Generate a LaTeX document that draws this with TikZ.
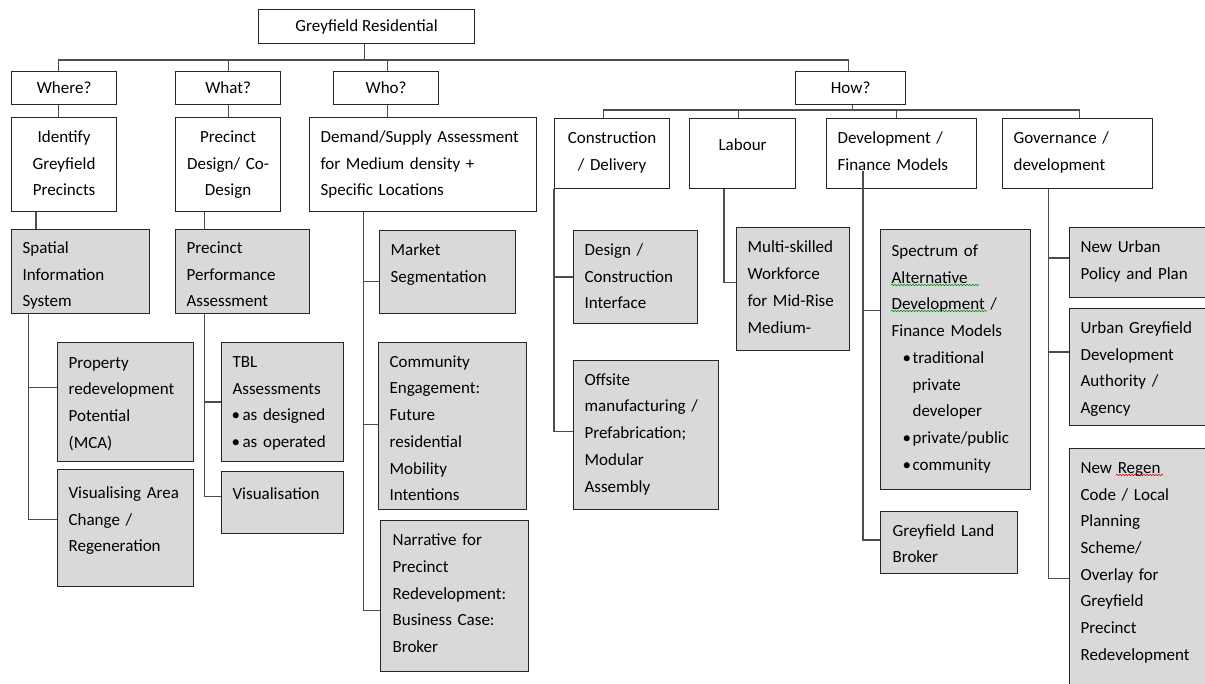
\documentclass[tikz,border=0pt]{standalone}
\usepackage{fontspec}
\setmainfont{Carlito}
\usetikzlibrary{decorations.pathmorphing}
\definecolor{boxgrey}{HTML}{D9D9D9}
\definecolor{boxline}{HTML}{262626}
\definecolor{linegrey}{HTML}{4D4D4D}
\begin{document}
\begin{tikzpicture}[x=1pt,y=-1pt,font=\fontsize{17pt}{26.7pt}\selectfont]
        \tikzset{
          qbox/.style={draw=boxline,line width=1.2pt,fill=white,anchor=north west,inner sep=0pt},
          hbox/.style={qbox,align=center,inner xsep=5pt},
          wbox/.style={qbox,align=left,inner xsep=11pt},
          gbox/.style={wbox,fill=boxgrey},
          link/.style={draw=linegrey,line width=1.2pt},
          squiggle/.style={draw=#1,line width=0.6pt,decorate,decoration={snake,amplitude=0.7pt,segment length=3pt}}
        }
        \useasboundingbox (0,0) rectangle (1205,684);
        \clip (0,0) rectangle (1205,684);
        %TOP
        \node[qbox,minimum width=216pt,minimum height=34pt] (top) at (258,9) {Greyfield Residential};
        \foreach \n/\x/\w/\lbl in {where/11/105/Where?,what/175/105/What?,who/333/105/Who?,how/795/110/How?}{
            \node[qbox,minimum width=\w pt,minimum height=33pt] (\n) at (\x,71) {\lbl};
        }
        %SECOND ROW
        \node[hbox,text width=95pt,text height=25pt,text depth=69pt] (ident) at (11,117) {Identify\\Greyfield\\Precincts};
        \node[hbox,text width=95pt,text height=25pt,text depth=69pt] (pdesign) at (175,117) {Precinct\\Design/ Co-\\Design};
        \node[wbox,text width=205pt,text height=25pt,text depth=69pt] (demand) at (309,117) {Demand/Supply Assessment\\for Medium density +\\Specific Locations};
        \node[hbox,text width=105pt,text height=25pt,text depth=45pt] (cons) at (554,118) {Construction\\/ Delivery};
        \node[hbox,text width=96pt,text height=32pt,text depth=38pt] (labour) at (689,118) {Labour};
        \node[wbox,text width=128pt,text height=25pt,text depth=45pt] (devfin) at (826,118) {Development /\\Finance Models};
        \node[wbox,text width=128pt,text height=25pt,text depth=45pt] (gov) at (1002,118) {Governance /\\development};
        %GREY BOXES
        \node[gbox,text width=116pt,text height=24pt,text depth=60pt] (spatial) at (11,229) {Spatial\\Information\\System};
        \node[gbox,text width=112pt,text height=24pt,text depth=60pt] (ppa) at (175,229) {Precinct\\Performance\\Assessment};
        \node[gbox,text width=114pt,text height=25.5pt,text depth=93.5pt] (prop) at (57,342) {Property\\redevelopment\\Potential\\(MCA)};
        \node[gbox,text width=114pt,text height=28.7pt,text depth=88.3pt] (visarea) at (57,469) {Visualising Area\\Change /\\Regeneration};
        \node[gbox,text width=100pt,text height=25pt,text depth=94pt] (tbl) at (221,342) {TBL\\Assessments\\\makebox[10pt][l]{\hspace{-1pt}\textbullet}as designed\\\makebox[10pt][l]{\hspace{-1pt}\textbullet}as operated};
        \node[gbox,text width=100pt,text height=28pt,text depth=34pt] (vis) at (221,471) {Visualisation};
        \node[gbox,text width=114pt,text height=25.3pt,text depth=57.7pt] (market) at (379,230) {Market\\Segmentation};
        \node[gbox,text width=126pt,text height=24.7pt,text depth=142.3pt] (commun) at (378,342) {Community\\Engagement:\\Future\\residential\\Mobility\\Intentions};
        \node[gbox,inner xsep=12pt,text width=124pt,text height=25pt,text depth=126pt] (narr) at (380,520) {Narrative for\\Precinct\\Redevelopment:\\Business Case:\\Broker};
        \node[gbox,text width=102pt,text height=25pt,text depth=68pt] (dci) at (573,230) {Design /\\Construction\\Interface};
        \node[gbox,text width=123pt,text height=24.7pt,text depth=124.3pt] (offsite) at (573,360) {Offsite\\manufacturing /\\Prefabrication;\\Modular\\Assembly};
        \node[gbox,text width=91pt,text height=25.4pt,text depth=97.6pt] (multi) at (736,227) {Multi-skilled\\Workforce\\for Mid-Rise\\Medium-};
        \node[gbox,text width=128pt,text height=27pt,text depth=233pt] (spectrum) at (880,229) {Spectrum of\\Alternative\\Development /\\Finance Models\\\hspace*{11pt}\makebox[10pt][l]{\textbullet}traditional\\\hspace*{21pt}private\\\hspace*{21pt}developer\\\hspace*{11pt}\makebox[10pt][l]{\textbullet}private/public\\\hspace*{11pt}\makebox[10pt][l]{\textbullet}community};
        \node[gbox,inner xsep=12pt,text width=113pt,text height=24.6pt,text depth=37.4pt] (gland) at (880,511) {Greyfield Land\\Broker};
        \node[gbox,text width=138pt,text height=25.4pt,text depth=44.6pt] (newurban) at (1069,227) {New Urban\\Policy and Plan};
        \node[gbox,text width=138pt,text height=25pt,text depth=92pt] (ugda) at (1069,308) {Urban Greyfield\\Development\\Authority /\\Agency};
        \node[gbox,text width=138pt,text height=24.7pt,text depth=235.3pt] (regen) at (1069,448) {New Regen\\Code / Local\\Planning\\Scheme/\\Overlay for\\Greyfield\\Precinct\\Redevelopment};
        %SPELLING MARKS
        \draw[squiggle=green!55!black] (891,285) -- (979,285);
        \draw[squiggle=green!55!black] (891,311) -- (987,311);
        \draw[squiggle=red!85!black] (1116,475) -- (1163,475);
        %BUS LINES
        \coordinate (bus) at (0,60);
        \coordinate (howbus) at (0,110);
        \coordinate (topdrop) at ([xshift=-2pt]top.south);
        \coordinate (wheredrop) at ([xshift=-5.5pt]where.north);
        \coordinate (whodrop) at ([xshift=1.5pt]who.north);
        \coordinate (howdrop) at ([xshift=-2pt]how.north);
        \draw[link] (topdrop) -- (topdrop |- bus);
        \draw[link] (wheredrop) |- (howdrop |- bus) -- (howdrop);
        \draw[link] (what.north) -- (what.north |- bus);
        \draw[link] (whodrop) -- (whodrop |- bus);
        \coordinate (wherelow) at ([xshift=-5.5pt]where.south);
        \coordinate (wholow) at ([xshift=1.5pt]who.south);
        \draw[link] (wherelow) -- (wherelow |- ident.north);
        \draw[link] (what.south) -- (what.south |- pdesign.north);
        \draw[link] (wholow) -- (wholow |- demand.north);
        \coordinate (howlow) at ([xshift=2pt]how.south);
        \coordinate (consdrop) at ([xshift=-8.5pt]cons.north);
        \coordinate (labdrop) at ([xshift=-4.5pt]labour.north);
        \coordinate (devdrop) at ([xshift=-5pt]devfin.north);
        \coordinate (govdrop) at ([xshift=2pt]gov.north);
        \draw[link] (howlow) -- (howlow |- howbus);
        \draw[link] (consdrop) |- (govdrop |- howbus) -- (govdrop);
        \draw[link] (labdrop) -- (labdrop |- howbus);
        \draw[link] (devdrop) -- (devdrop |- howbus);
        \coordinate (identlow) at ([xshift=25pt]ident.south west);
        \coordinate (pdlow) at ([xshift=29.7pt]pdesign.south west);
        \draw[link] (identlow) -- (identlow |- spatial.north);
        \draw[link] (pdlow) -- (pdlow |- ppa.north);
        %TRUNKS
        \coordinate (sptrunk) at ([xshift=17.7pt]spatial.south west);
        \coordinate (patrunk) at ([xshift=29.7pt]ppa.south west);
        \coordinate (detrunk) at ([xshift=54.3pt]demand.south west);
        \coordinate (cotrunk) at (cons.south west);
        \coordinate (latrunk) at ([xshift=35pt]labour.south west);
        \coordinate (dftrunk) at ([xshift=37pt,yshift=18pt]devfin.south west);
        \coordinate (gotrunk) at ([xshift=46.5pt]gov.south west);
        \foreach \tr/\b/\dy in {sptrunk/prop/14.5,sptrunk/visarea/8.5,patrunk/tbl/0,patrunk/vis/6,
            detrunk/market/-9.2,detrunk/commun/1.5,detrunk/narr/-14.5,cotrunk/dci/0,cotrunk/offsite/3.8,
            latrunk/multi/6.5,dftrunk/spectrum/49,dftrunk/gland/2.7,gotrunk/newurban/4.5,gotrunk/ugda/15,gotrunk/regen/0}{
            \draw[link] ([yshift=\dy pt]\b.west) -| (\tr);
        }
\end{tikzpicture}
\end{document}
